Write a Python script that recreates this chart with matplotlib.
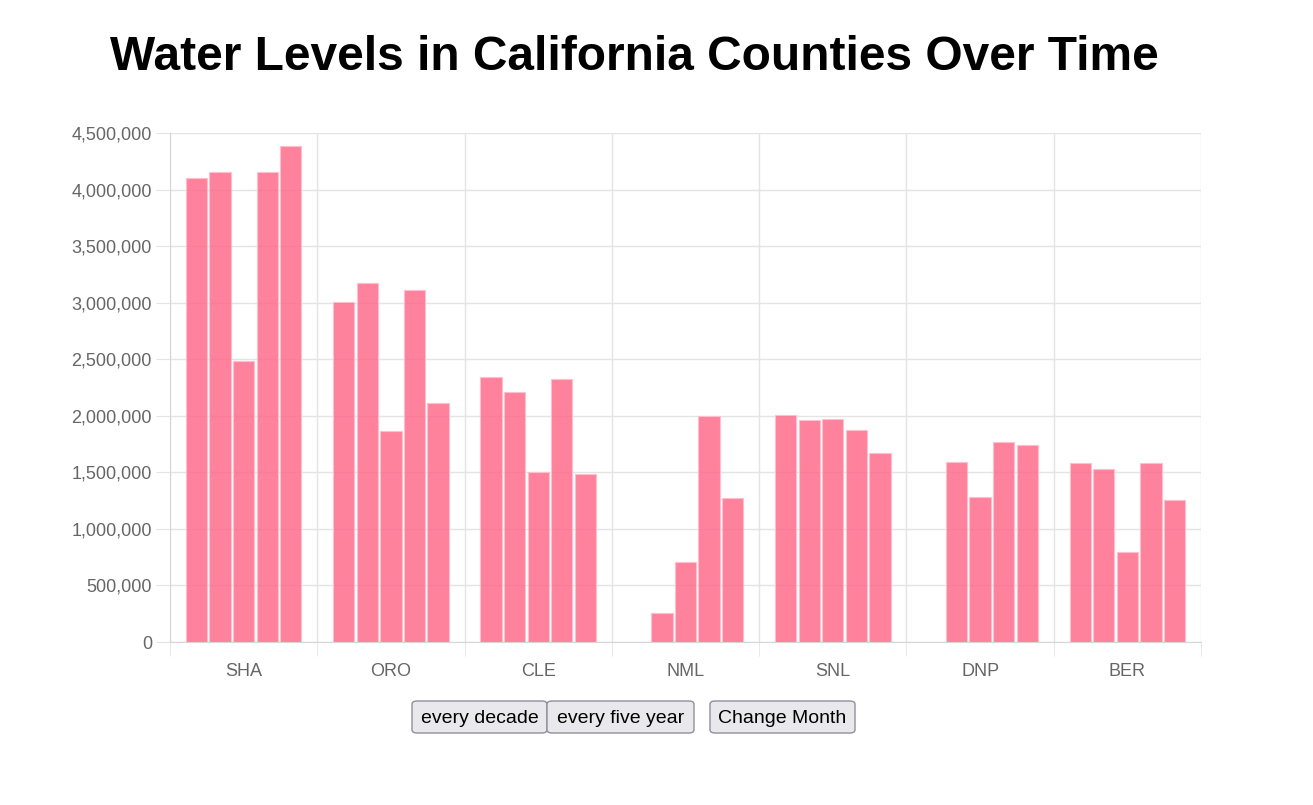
import numpy as np
import matplotlib
matplotlib.use("Agg")
import matplotlib.pyplot as plt
from matplotlib.patches import FancyBboxPatch
from matplotlib.ticker import FuncFormatter

# counties along the x axis
counties = ["SHA", "ORO", "CLE", "NML", "SNL", "DNP", "BER"]

# five datasets (one bar each per county); nan = no reading
levels_1 = [4100000, 3006000, 2343000, np.nan, 2007000, np.nan, 1580000]
levels_2 = [4155000, 3174000, 2210000, 254000, 1963000, 1589000, 1530000]
levels_3 = [2485000, 1866000, 1503000, 710000, 1969000, 1285000, 796000]
levels_4 = [4155000, 3112000, 2325000, 1998000, 1872000, 1771000, 1585000]
levels_5 = [4385000, 2113000, 1485000, 1273000, 1668000, 1742000, 1253000]

button_labels = ["every decade", "every five year", "Change Month"]

W, H = 1313, 805
plt.rcParams['font.family'] = ['Liberation Sans', 'DejaVu Sans']
fig = plt.figure(figsize=(W / 100, H / 100), dpi=100)

# plot area placed in pixels
left, right, top, bottom = 170, 1201, 133, 642
ax = fig.add_axes([left / W, 1 - bottom / H, (right - left) / W, (bottom - top) / H])

series = [levels_1, levels_2, levels_3, levels_4, levels_5]
x = np.arange(len(counties))
slot = 0.8 / len(series)
face = (1.0, 0.39, 0.52, 0.8)
edge = (1.0, 0.75, 0.8, 1.0)
for i, vals in enumerate(series):
    off = (i - (len(series) - 1) / 2) * slot
    ax.bar(x + off, vals, width=slot * 0.9, color=face, edgecolor=edge,
           linewidth=0.8, zorder=3)

ax.set_xlim(-0.5, len(counties) - 0.5)
ax.set_ylim(0, 4500000)
ax.set_yticks(np.arange(0, 4500001, 500000))
ax.yaxis.set_major_formatter(FuncFormatter(lambda v, p: f"{int(v):,}"))

ax.set_xticks(x)
ax.set_xticklabels(counties)
ax.set_xticks(np.arange(-0.5, len(counties), 1), minor=True)

grid_c = '#e4e4e4'
ax.grid(axis='y', color=grid_c, linewidth=1, alpha=1, zorder=0)
ax.grid(axis='x', which='minor', color=grid_c, linewidth=1, alpha=1, zorder=0)
ax.tick_params(axis='x', which='major', length=0, pad=15, labelsize=13,
               labelcolor='#666666')
ax.tick_params(axis='x', which='minor', length=10, color=grid_c)
ax.tick_params(axis='y', length=10, color=grid_c, pad=3, labelsize=13,
               labelcolor='#666666')
for s in ['top', 'right']:
    ax.spines[s].set_visible(False)
for s in ['left', 'bottom']:
    ax.spines[s].set_color('#d6d6d6')

fig.text(634 / W, 1 - 58 / H, "Water Levels in California Counties Over Time",
         ha='center', va='center', fontsize=34.5, fontweight='bold', color='black')

# the buttons under the chart
boxes = [(412, 547), (547, 694), (710, 855)]
for (x0, x1), lab in zip(boxes, button_labels):
    y0, y1 = 701, 733
    fig.patches.append(FancyBboxPatch(
        (x0 / W, 1 - y1 / H), (x1 - x0) / W, (y1 - y0) / H,
        boxstyle="round,pad=0,rounding_size=0.004",
        transform=fig.transFigure, facecolor='#e9e9ed', edgecolor='#8f8f9d',
        linewidth=1))
    fig.text((x0 + x1) / 2 / W, 1 - (y0 + y1 + 3) / 2 / H, lab, ha='center',
             va='center', fontsize=14, color='black')

fig.savefig("out.png", dpi=100, facecolor='white')
